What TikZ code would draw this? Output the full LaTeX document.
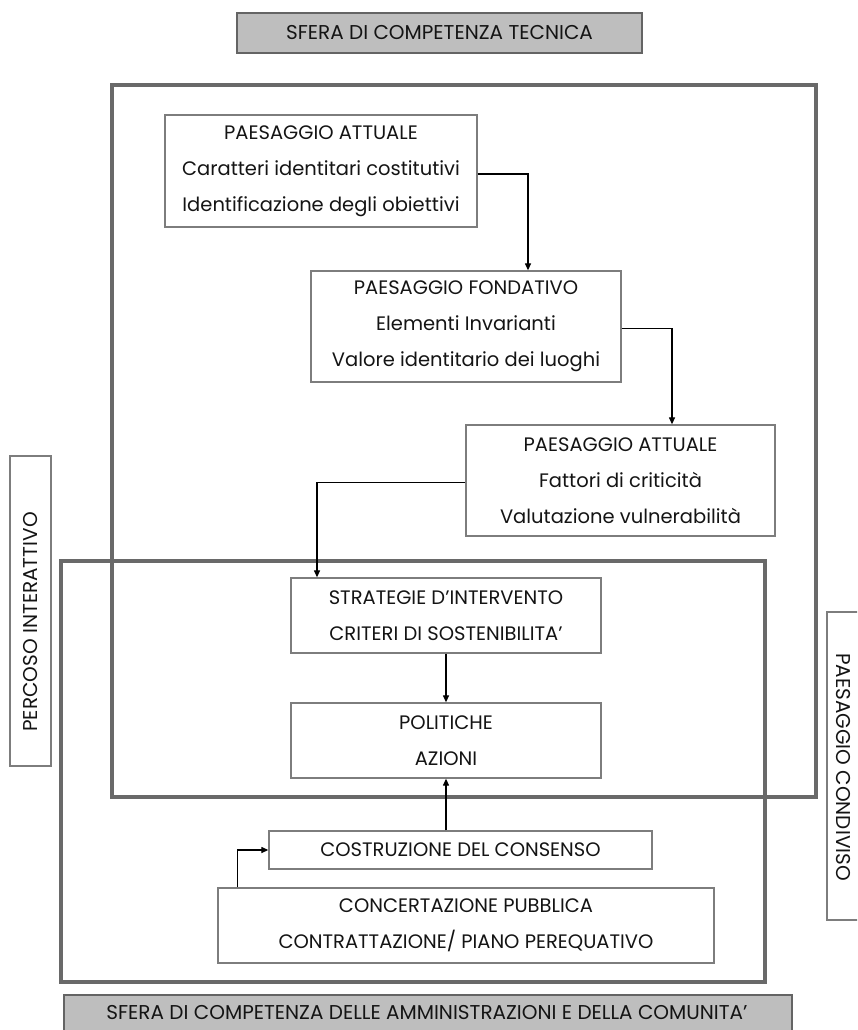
\documentclass[tikz,border=0pt]{standalone}
\usepackage{fontspec}
\setmainfont{Poppins}
\usetikzlibrary{arrows.meta}
\definecolor{framegray}{RGB}{105,105,105}
\definecolor{boxgray}{RGB}{125,125,125}
\definecolor{bannerfill}{RGB}{190,190,190}
\definecolor{bannerline}{RGB}{100,100,100}
\definecolor{txt}{RGB}{20,20,20}
\begin{document}
\begin{tikzpicture}[x=1pt,y=-1pt,
  box/.style={draw=boxgray, line width=1.3pt, inner sep=0pt, align=center, text=txt,
    font=\fontsize{19.5}{36}\selectfont},
  banner/.style={draw=bannerline, fill=bannerfill, line width=1.5pt, inner sep=0pt, text=txt,
    font=\fontsize{20}{24}\selectfont},
  sidebox/.style={draw=boxgray, line width=1.3pt},
  sidetext/.style={text=txt, font=\fontsize{20}{24}\selectfont, inner sep=0pt},
  frame/.style={draw=framegray, line width=4pt},
  arr/.style={-{Triangle[length=7pt,width=6pt]}, line width=1.2pt, black}]
\useasboundingbox (0,0) rectangle (857,1030);
\clip (0,0) rectangle (857,1030);
\fill[white] (0,0) rectangle (857,1030);

% frames
\draw[frame] (112,85) rectangle (816,797);
\draw[frame] (61,561) rectangle (765,982);

% banners
\node[banner, minimum width=405pt, minimum height=40pt] (topbanner) at (439.5,33) {SFERA DI COMPETENZA TECNICA};
\draw[draw=bannerline, fill=bannerfill, line width=1.5pt] (64,995) rectangle (792,1045);
\node[sidetext] (botbanner) at (427,1012) {SFERA DI COMPETENZA DELLE AMMINISTRAZIONI E DELLA COMUNITA’};

% side boxes
\draw[sidebox] (10,456) rectangle (51,766);
\node[sidetext, rotate=90] (percoso) at (31,622) {PERCOSO INTERATTIVO};
\draw[sidebox] (827,612) rectangle (875,920);
\node[sidetext, rotate=-90] (condiviso) at (843,767) {PAESAGGIO CONDIVISO};

% boxes
\node[box, minimum width=312pt, minimum height=112pt] (b1) at (321,171)
  {PAESAGGIO ATTUALE\\Caratteri identitari costitutivi\\Identificazione degli obiettivi};
\node[box, minimum width=310pt, minimum height=111pt] (b2) at (466,326.5)
  {PAESAGGIO FONDATIVO\\Elementi Invarianti\\Valore identitario dei luoghi};
\node[box, minimum width=309pt, minimum height=111pt] (b3) at (620.5,480.5)
  {PAESAGGIO ATTUALE\\Fattori di criticità\\Valutazione vulnerabilità};
\node[box, minimum width=310pt, minimum height=75pt] (strat) at (446,615.5)
  {STRATEGIE D’INTERVENTO\\CRITERI DI SOSTENIBILITA’};
\node[box, minimum width=310pt, minimum height=75pt] (polit) at (446,740.5)
  {POLITICHE\\AZIONI};
\node[box, minimum width=383pt, minimum height=38pt] (costr) at (460.5,850)
  {COSTRUZIONE DEL CONSENSO};
\node[box, minimum width=496pt, minimum height=75pt] (conc) at (466,925.5)
  {CONCERTAZIONE PUBBLICA\\CONTRATTAZIONE/ PIANO PEREQUATIVO};

% connectors
\draw[arr] ([yshift=-3pt]b1.east) -| ([xshift=62pt]b2.north);
\draw[arr] ([yshift=-2pt]b2.east) -| ([xshift=51.5pt]b3.north);
\draw[arr] ([yshift=-2pt]b3.west) -| ([xshift=-129pt]strat.north);
\draw[arr] (strat.south) -- (polit.north);
\draw[arr] (costr.north -| polit.south) -- (polit.south);
\draw[arr] ([xshift=20pt]conc.north west) |- (costr.west);
\end{tikzpicture}
\end{document}
